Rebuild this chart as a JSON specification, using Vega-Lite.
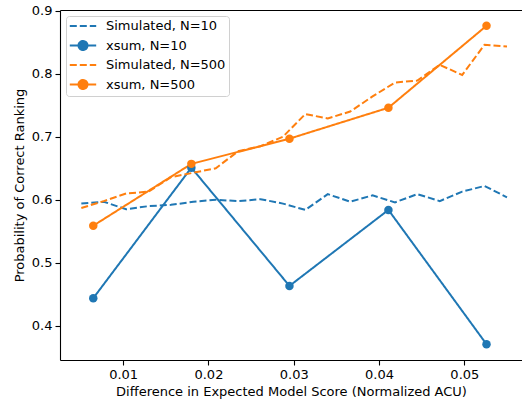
{
  "$schema": "https://vega.github.io/schema/vega-lite/v6.json",
  "autosize": {"type": "none"},
  "padding": {"left": 60, "top": 10, "right": 0, "bottom": 40},
  "width": 462,
  "height": 350,
  "config": {
    "font": "DejaVu Sans",
    "view": {"stroke": null},
    "axis": {
      "grid": false, "domainColor": "black", "domainWidth": 1.1, "tickColor": "black", "tickSize": 5, "tickWidth": 1.1,
      "labelColor": "black", "labelFontSize": 13, "labelPadding": 3, "titleColor": "black", "titleFontSize": 13, "titleFontWeight": "normal"
    }
  },
  "data": {"values": [
    {"x": 0.00510, "y": 0.594, "series": "Simulated, N=10"},
    {"x": 0.00773, "y": 0.597, "series": "Simulated, N=10"},
    {"x": 0.01035, "y": 0.585, "series": "Simulated, N=10"},
    {"x": 0.01298, "y": 0.590, "series": "Simulated, N=10"},
    {"x": 0.01561, "y": 0.592, "series": "Simulated, N=10"},
    {"x": 0.01823, "y": 0.597, "series": "Simulated, N=10"},
    {"x": 0.02086, "y": 0.600, "series": "Simulated, N=10"},
    {"x": 0.02348, "y": 0.598, "series": "Simulated, N=10"},
    {"x": 0.02611, "y": 0.601, "series": "Simulated, N=10"},
    {"x": 0.02874, "y": 0.594, "series": "Simulated, N=10"},
    {"x": 0.03136, "y": 0.584, "series": "Simulated, N=10"},
    {"x": 0.03399, "y": 0.609, "series": "Simulated, N=10"},
    {"x": 0.03662, "y": 0.597, "series": "Simulated, N=10"},
    {"x": 0.03924, "y": 0.607, "series": "Simulated, N=10"},
    {"x": 0.04187, "y": 0.596, "series": "Simulated, N=10"},
    {"x": 0.04449, "y": 0.609, "series": "Simulated, N=10"},
    {"x": 0.04712, "y": 0.598, "series": "Simulated, N=10"},
    {"x": 0.04975, "y": 0.613, "series": "Simulated, N=10"},
    {"x": 0.05237, "y": 0.622, "series": "Simulated, N=10"},
    {"x": 0.05500, "y": 0.604, "series": "Simulated, N=10"},
    {"x": 0.0065, "y": 0.444, "series": "xsum, N=10"},
    {"x": 0.0180, "y": 0.651, "series": "xsum, N=10"},
    {"x": 0.0295, "y": 0.4635, "series": "xsum, N=10"},
    {"x": 0.0411, "y": 0.584, "series": "xsum, N=10"},
    {"x": 0.0526, "y": 0.371, "series": "xsum, N=10"},
    {"x": 0.00510, "y": 0.587, "series": "Simulated, N=500"},
    {"x": 0.00773, "y": 0.598, "series": "Simulated, N=500"},
    {"x": 0.01035, "y": 0.610, "series": "Simulated, N=500"},
    {"x": 0.01298, "y": 0.613, "series": "Simulated, N=500"},
    {"x": 0.01561, "y": 0.636, "series": "Simulated, N=500"},
    {"x": 0.01823, "y": 0.643, "series": "Simulated, N=500"},
    {"x": 0.02086, "y": 0.650, "series": "Simulated, N=500"},
    {"x": 0.02348, "y": 0.677, "series": "Simulated, N=500"},
    {"x": 0.02611, "y": 0.685, "series": "Simulated, N=500"},
    {"x": 0.02874, "y": 0.700, "series": "Simulated, N=500"},
    {"x": 0.03136, "y": 0.736, "series": "Simulated, N=500"},
    {"x": 0.03399, "y": 0.729, "series": "Simulated, N=500"},
    {"x": 0.03662, "y": 0.740, "series": "Simulated, N=500"},
    {"x": 0.03924, "y": 0.764, "series": "Simulated, N=500"},
    {"x": 0.04187, "y": 0.786, "series": "Simulated, N=500"},
    {"x": 0.04449, "y": 0.789, "series": "Simulated, N=500"},
    {"x": 0.04712, "y": 0.814, "series": "Simulated, N=500"},
    {"x": 0.04975, "y": 0.798, "series": "Simulated, N=500"},
    {"x": 0.05237, "y": 0.846, "series": "Simulated, N=500"},
    {"x": 0.05500, "y": 0.843, "series": "Simulated, N=500"},
    {"x": 0.0065, "y": 0.559, "series": "xsum, N=500"},
    {"x": 0.0180, "y": 0.657, "series": "xsum, N=500"},
    {"x": 0.0295, "y": 0.697, "series": "xsum, N=500"},
    {"x": 0.0411, "y": 0.746, "series": "xsum, N=500"},
    {"x": 0.0526, "y": 0.876, "series": "xsum, N=500"}
  ]},
  "resolve": {"axis": {"x": "independent"}},
  "encoding": {
    "y": {"field": "y", "type": "quantitative", "scale": {"domain": [0.346, 0.901], "nice": false, "zero": false},
      "axis": {"values": [0.4, 0.5, 0.6, 0.7, 0.8, 0.9], "format": ".1f", "title": "Probability of Correct Ranking", "titlePadding": 5}},
    "color": {"field": "series", "type": "nominal",
      "scale": {"domain": ["Simulated, N=10", "xsum, N=10", "Simulated, N=500", "xsum, N=500"], "range": ["#1f77b4", "#1f77b4", "#ff7f0e", "#ff7f0e"]},
      "legend": {
        "title": null, "orient": "top-left", "offset": 6, "padding": 3,
        "fillColor": "white", "strokeColor": "#d0d0d0", "cornerRadius": 3,
        "labelFontSize": 13, "labelColor": "black", "labelLimit": 300,
        "symbolSize": 144, "symbolStrokeWidth": 2, "rowPadding": 3.5, "labelOffset": 16, "symbolOffset": 7,
        "encode": {"symbols": {"update": {
          "shape": {"signal": "indexof(datum.value,'xsum')==0 ? 'M-2.2,0L2.2,0M-0.75,0A0.75,0.75 0 1,1 0.75,0A0.75,0.75 0 1,1 -0.75,0' : 'M-2.2,0L2.2,0'"},
          "fill": {"signal": "indexof(datum.value,'xsum')==0 ? (indexof(datum.value,'500')>0 ? '#ff7f0e' : '#1f77b4') : 'transparent'"},
          "stroke": {"signal": "indexof(datum.value,'500')>0 ? '#ff7f0e' : '#1f77b4'"},
          "strokeDash": {"signal": "indexof(datum.value,'Simulated')==0 ? [7,3] : [1,0]"},
          "opacity": {"value": 1}
        }}}
      }
    }
  },
  "layer": [
    {"mark": {"type": "line", "strokeWidth": 2},
     "encoding": {
       "x": {"field": "x", "type": "quantitative", "scale": {"domain": [0.0026, 0.05676], "nice": false, "zero": false},
         "axis": {"orient": "bottom", "values": [0.01, 0.02, 0.03, 0.04, 0.05], "format": ".2f", "title": "Difference in Expected Model Score (Normalized ACU)", "titlePadding": 4}},
       "strokeDash": {"field": "series", "type": "nominal",
         "scale": {"domain": ["Simulated, N=10", "xsum, N=10", "Simulated, N=500", "xsum, N=500"], "range": [[7, 3], [1, 0], [7, 3], [1, 0]]}}
     }},
    {"transform": [{"filter": "indexof(datum.series,'xsum')==0"}],
     "mark": {"type": "point", "filled": true, "size": 72, "opacity": 1},
     "encoding": {
       "x": {"field": "x", "type": "quantitative", "scale": {"domain": [0.0026, 0.05676], "nice": false, "zero": false},
         "axis": {"orient": "top", "labels": false, "ticks": false, "title": null, "domain": true}}
     }}
  ]
}
